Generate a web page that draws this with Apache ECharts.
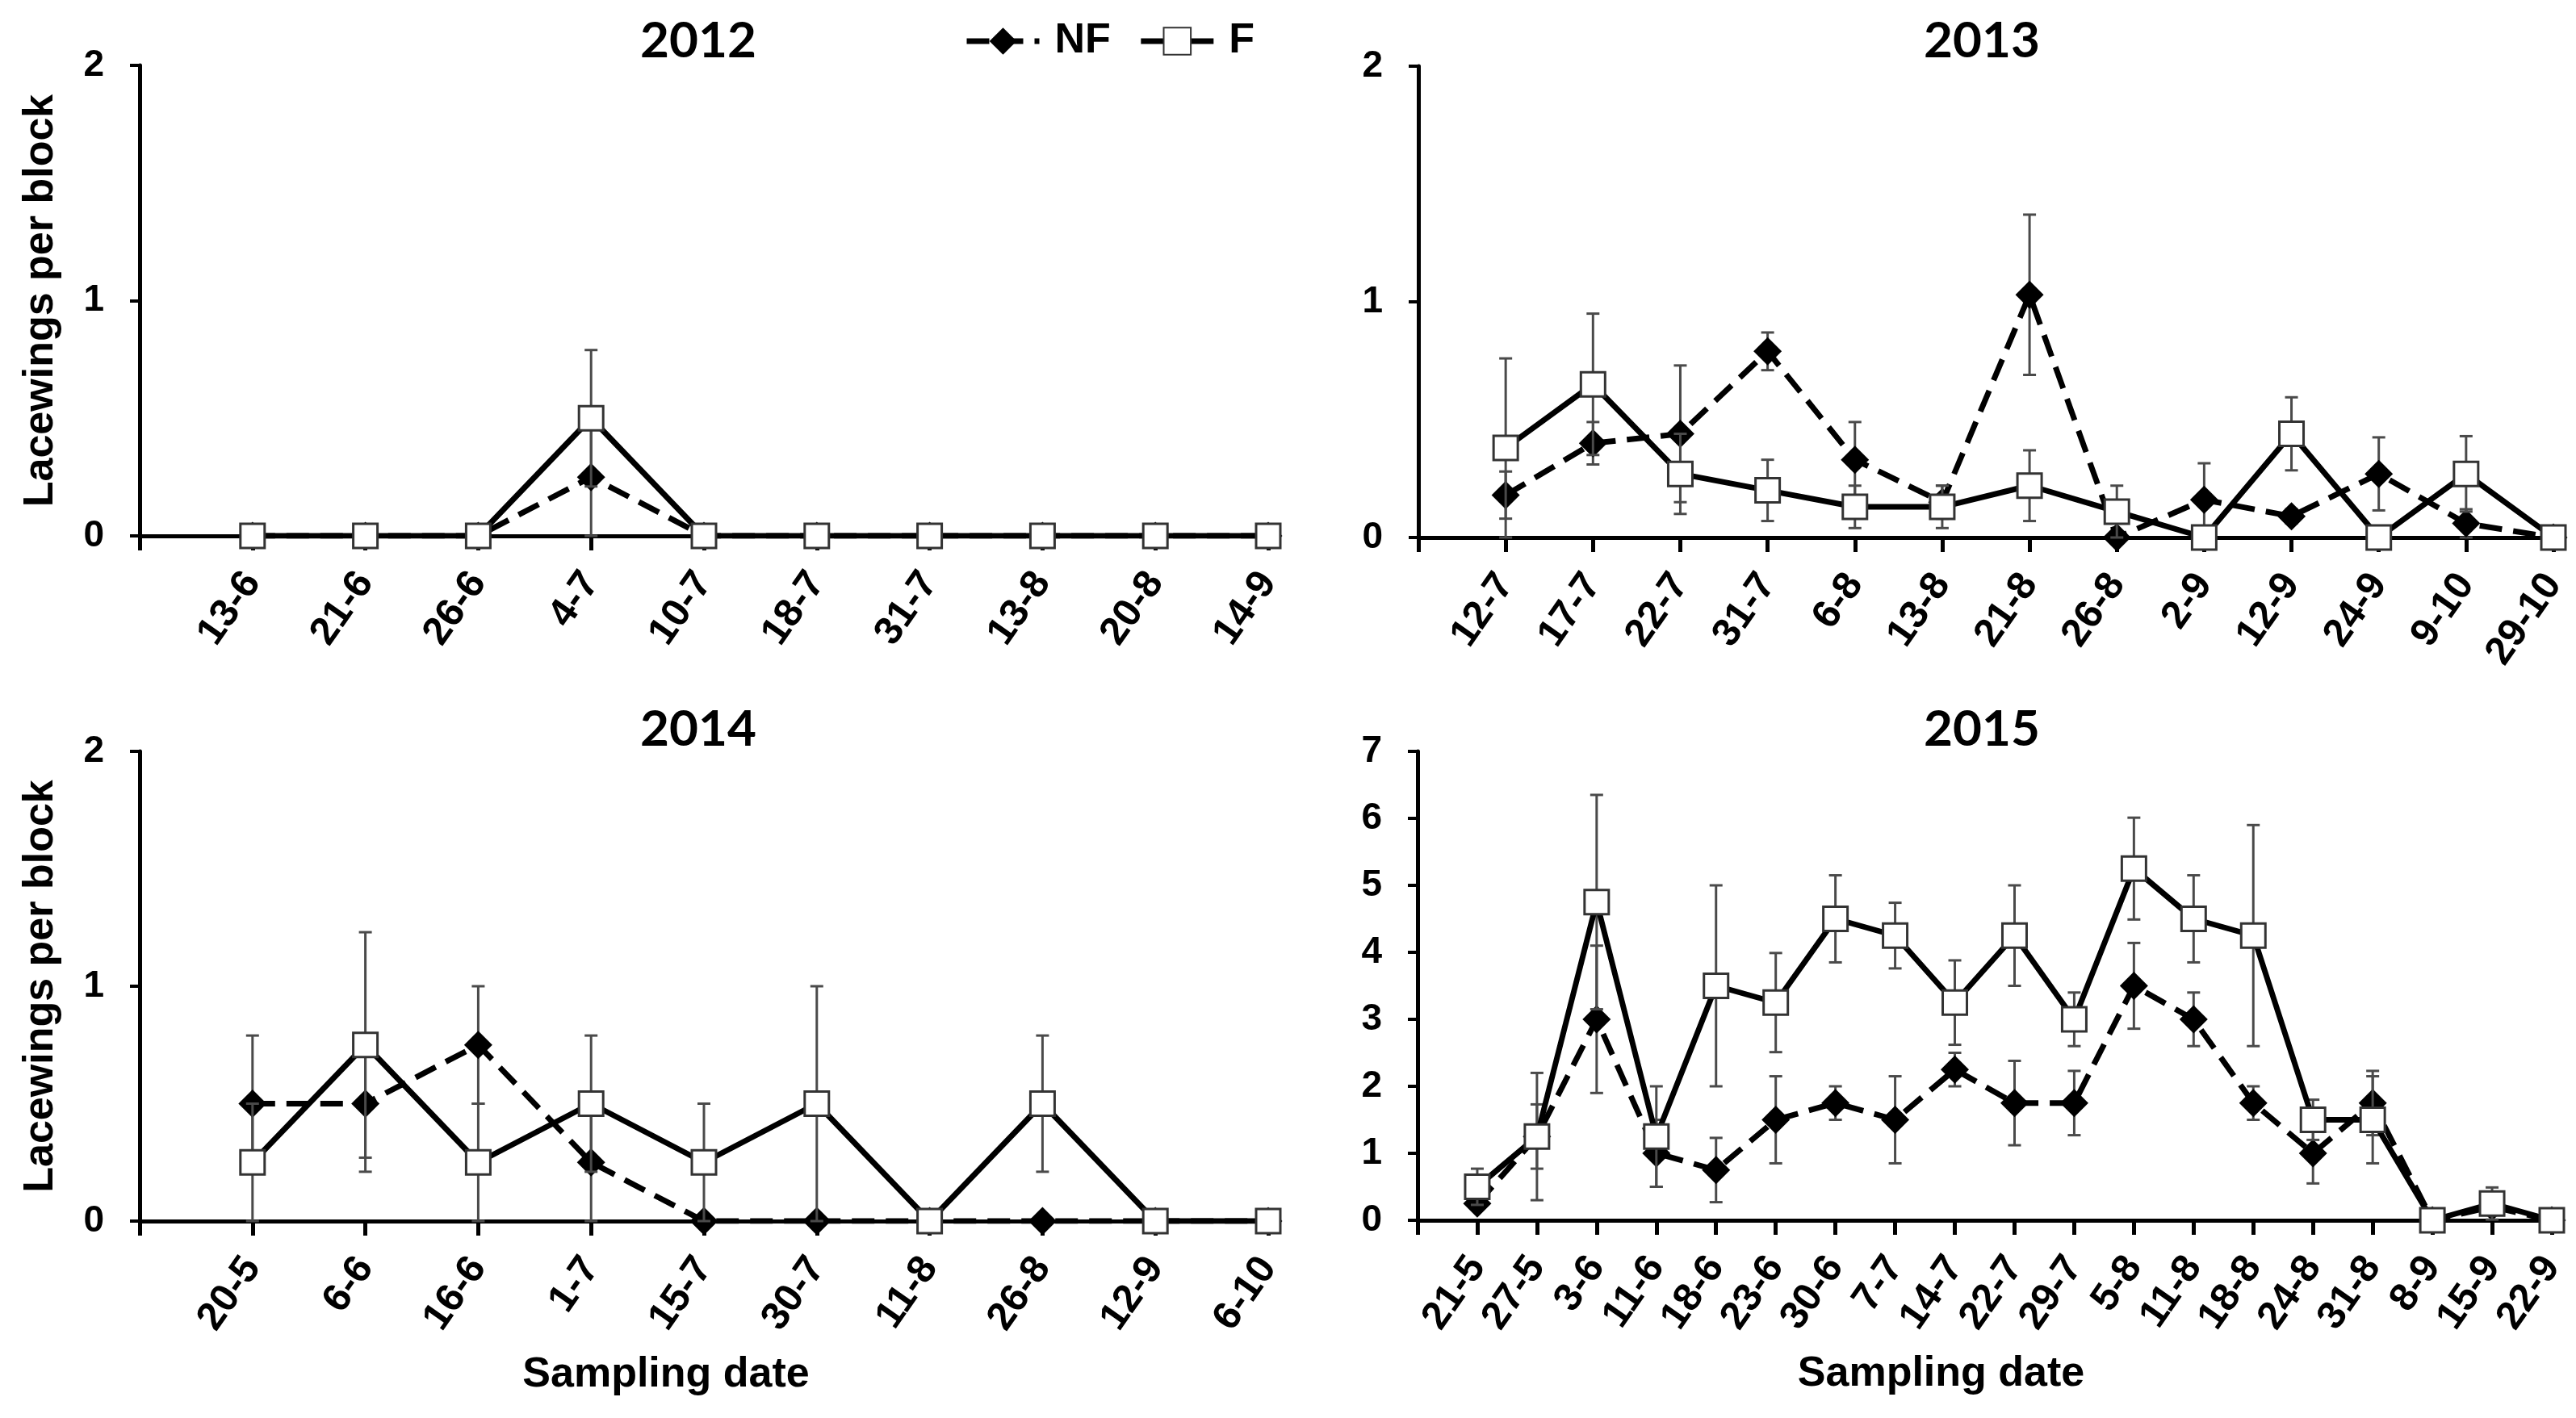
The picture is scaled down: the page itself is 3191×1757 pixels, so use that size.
<!DOCTYPE html>
<html>
<head>
<meta charset="utf-8">
<script src="https://cdn.jsdelivr.net/npm/echarts@6/dist/echarts.min.js"></script>
<style>
html,body{margin:0;padding:0;background:#fff;}
#chart{width:3191px;height:1757px;}
</style>
</head>
<body>
<div id="chart"></div>
<script>
// ---------- data ----------
const cats2012 = ['', '13-6','21-6','26-6','4-7','10-7','18-7','31-7','13-8','20-8','14-9'];
const nf2012    = [null, 0, 0, 0, 0.25, 0, 0, 0, 0, 0, 0];
const nf2012Err = [null, 0, 0, 0, 0.25, 0, 0, 0, 0, 0, 0];
const f2012     = [null, 0, 0, 0, 0.5, 0, 0, 0, 0, 0, 0];
const f2012Err  = [null, 0, 0, 0, 0.29, 0, 0, 0, 0, 0, 0];

const cats2013 = ['', '12-7','17-7','22-7','31-7','6-8','13-8','21-8','26-8','2-9','12-9','24-9','9-10','29-10'];
const nf2013    = [null, 0.18, 0.40, 0.44, 0.79, 0.33, 0.15, 1.03, 0, 0.16, 0.09, 0.27, 0.06, 0];
const nf2013Err = [null, 0.10, 0.09, 0.29, 0.08, 0.16, 0.07, 0.34, 0, 0.155, 0.03, 0.155, 0.06, 0];
const f2013     = [null, 0.38, 0.65, 0.27, 0.20, 0.13, 0.13, 0.22, 0.11, 0, 0.44, 0, 0.27, 0];
const f2013Err  = [null, 0.38, 0.30, 0.17, 0.13, 0.09, 0.09, 0.15, 0.11, 0, 0.155, 0, 0.16, 0];

const cats2014 = ['', '20-5','6-6','16-6','1-7','15-7','30-7','11-8','26-8','12-9','6-10'];
const nf2014    = [null, 0.5, 0.5, 0.75, 0.25, 0, 0, 0, 0, 0, 0];
const nf2014Err = [null, 0.29, 0.29, 0.25, 0.25, 0, 0, 0, 0, 0, 0];
const f2014     = [null, 0.25, 0.75, 0.25, 0.5, 0.25, 0.5, 0, 0.5, 0, 0];
const f2014Err  = [null, 0.25, 0.48, 0.25, 0.29, 0.25, 0.5, 0, 0.29, 0, 0];

const cats2015 = ['', '21-5','27-5','3-6','11-6','18-6','23-6','30-6','7-7','14-7','22-7','29-7','5-8','11-8','18-8','24-8','31-8','8-9','15-9','22-9'];
const nf2015    = [null, 0.25, 1.25, 3.0, 1.0, 0.75, 1.5, 1.75, 1.5, 2.25, 1.75, 1.75, 3.5, 3.0, 1.75, 1.0, 1.75, 0, 0.2, 0];
const nf2015Err = [null, 0, 0.48, 1.1, 0.5, 0.48, 0.65, 0.25, 0.65, 0.25, 0.63, 0.48, 0.64, 0.4, 0.25, 0.45, 0.48, 0, 0, 0];
const f2015     = [null, 0.5, 1.25, 4.75, 1.25, 3.5, 3.25, 4.5, 4.25, 3.25, 4.25, 3.0, 5.25, 4.5, 4.25, 1.5, 1.5, 0, 0.25, 0];
const f2015Err  = [null, 0.27, 0.95, 1.6, 0.75, 1.5, 0.74, 0.65, 0.49, 0.63, 0.75, 0.4, 0.76, 0.65, 1.65, 0.3, 0.65, 0, 0.24, 0];

const yearTitles = ['2012', '2013', '2014', '2015'];
const yMax = [2, 2, 2, 7];
const seriesNames = ['NF', 'F'];
const yAxisTitle = 'Lacewings per block';
const xAxisTitle = 'Sampling date';

// ---------- build ----------
const FONT = "'Liberation Sans', Arial, sans-serif";
const panels = [
  {cats: cats2012, nf: nf2012, nfErr: nf2012Err, f: f2012, fErr: f2012Err},
  {cats: cats2013, nf: nf2013, nfErr: nf2013Err, f: f2013, fErr: f2013Err},
  {cats: cats2014, nf: nf2014, nfErr: nf2014Err, f: f2014, fErr: f2014Err},
  {cats: cats2015, nf: nf2015, nfErr: nf2015Err, f: f2015, fErr: f2015Err}
];
const grids = [
  {left: 173, top: 81, width: 1398, height: 583},
  {left: 1757, top: 82, width: 1406, height: 584},
  {left: 173, top: 931, width: 1398, height: 582},
  {left: 1756, top: 931, width: 1405, height: 581}
];
const titlePos = [[865, 51], [2455, 51], [865, 904], [2455, 904]];
const xNamePad = [0, 0, 94, 108];

function errData(vals, errs) {
  const out = [];
  vals.forEach((v, i) => {
    if (v !== null && errs[i] > 0) out.push([i, Math.max(0, v - errs[i]), v + errs[i]]);
  });
  return out;
}
function errRender(params, api) {
  const lo = api.coord([api.value(0), api.value(1)]);
  const hi = api.coord([api.value(0), api.value(2)]);
  const cw = 8;
  const st = {stroke: '#4a4a4a', lineWidth: 3};
  return {
    type: 'group',
    children: [
      {type: 'line', shape: {x1: lo[0], y1: lo[1], x2: hi[0], y2: hi[1]}, style: st},
      {type: 'line', shape: {x1: lo[0] - cw, y1: lo[1], x2: lo[0] + cw, y2: lo[1]}, style: st},
      {type: 'line', shape: {x1: hi[0] - cw, y1: hi[1], x2: hi[0] + cw, y2: hi[1]}, style: st}
    ]
  };
}

const xAxes = [], yAxes = [], series = [], graphics = [];
panels.forEach((p, k) => {
  xAxes.push({
    type: 'category', gridIndex: k, data: p.cats, boundaryGap: false,
    axisLine: {lineStyle: {color: '#000', width: 5}},
    axisTick: {show: true, interval: 0, length: 18, lineStyle: {color: '#000', width: 5}},
    axisLabel: {interval: 0, rotate: 55, margin: 50, color: '#000', fontFamily: FONT, fontWeight: 'bold', fontSize: 49, hideOverlap: false},
    splitLine: {show: false},
    name: (k >= 2) ? xAxisTitle : '',
    nameLocation: 'middle', nameGap: 165,
    nameTextStyle: {color: '#000', fontFamily: FONT, fontWeight: 'bold', fontSize: 52, padding: [0, xNamePad[k], 0, 0]}
  });
  yAxes.push({
    type: 'value', gridIndex: k, min: 0, max: yMax[k], interval: 1,
    axisLine: {show: true, lineStyle: {color: '#000', width: 5}},
    axisTick: {show: true, length: 12, lineStyle: {color: '#000', width: 4}},
    axisLabel: {margin: 44, color: '#000', fontFamily: FONT, fontWeight: 'bold', fontSize: 46},
    splitLine: {show: false},
    name: (k % 2 === 0) ? yAxisTitle : '',
    nameLocation: 'middle', nameGap: 96, nameRotate: 90,
    nameTextStyle: {color: '#000', fontFamily: FONT, fontWeight: 'bold', fontSize: 52}
  });
  series.push({
    type: 'custom', name: 'NF-err', xAxisIndex: k, yAxisIndex: k, z: 1,
    renderItem: errRender, data: errData(p.nf, p.nfErr), encode: {x: 0, y: [1, 2]}, clip: false, silent: true
  });
  series.push({
    type: 'line', name: seriesNames[0], xAxisIndex: k, yAxisIndex: k, z: 2,
    data: p.nf, symbol: 'diamond', symbolSize: 35, showSymbol: true, showAllSymbol: true,
    itemStyle: {color: '#000'}, lineStyle: {color: '#000', width: 7, type: 'dashed'}
  });
  series.push({
    type: 'custom', name: 'F-err', xAxisIndex: k, yAxisIndex: k, z: 3,
    renderItem: errRender, data: errData(p.f, p.fErr), encode: {x: 0, y: [1, 2]}, clip: false, silent: true
  });
  series.push({
    type: 'line', name: seriesNames[1], xAxisIndex: k, yAxisIndex: k, z: 4,
    data: p.f, symbol: 'rect', symbolSize: 30, showSymbol: true, showAllSymbol: true,
    itemStyle: {color: '#fff', borderColor: '#333', borderWidth: 3},
    lineStyle: {color: '#000', width: 7, type: 'solid'}
  });
  graphics.push({
    type: 'text', x: titlePos[k][0], y: titlePos[k][1],
    style: {text: yearTitles[k], fill: '#000', font: "bold 62px Lato, 'Liberation Sans', sans-serif", textAlign: 'center', textVerticalAlign: 'middle'}
  });
});

const chart = echarts.init(document.getElementById('chart'), null, {renderer: 'canvas', width: 3191, height: 1757});
chart.setOption({
  animation: false,
  backgroundColor: '#fff',
  grid: grids.map(g => Object.assign({containLabel: false, outerBoundsMode: 'none'}, g)),
  xAxis: xAxes,
  yAxis: yAxes,
  legend: {
    data: [
      {name: seriesNames[0], lineStyle: {color: '#000', width: 7, type: 'dashed'}},
      {name: seriesNames[1], lineStyle: {color: '#000', width: 7, type: 'solid'}}
    ],
    left: 1189, top: 20, itemWidth: 90, itemHeight: 42, itemGap: 34,
    textStyle: {color: '#000', fontFamily: FONT, fontWeight: 'bold', fontSize: 52, padding: [0, 0, 0, 14]},
    selectedMode: false
  },
  graphic: graphics,
  series: series
});
</script>
</body>
</html>
